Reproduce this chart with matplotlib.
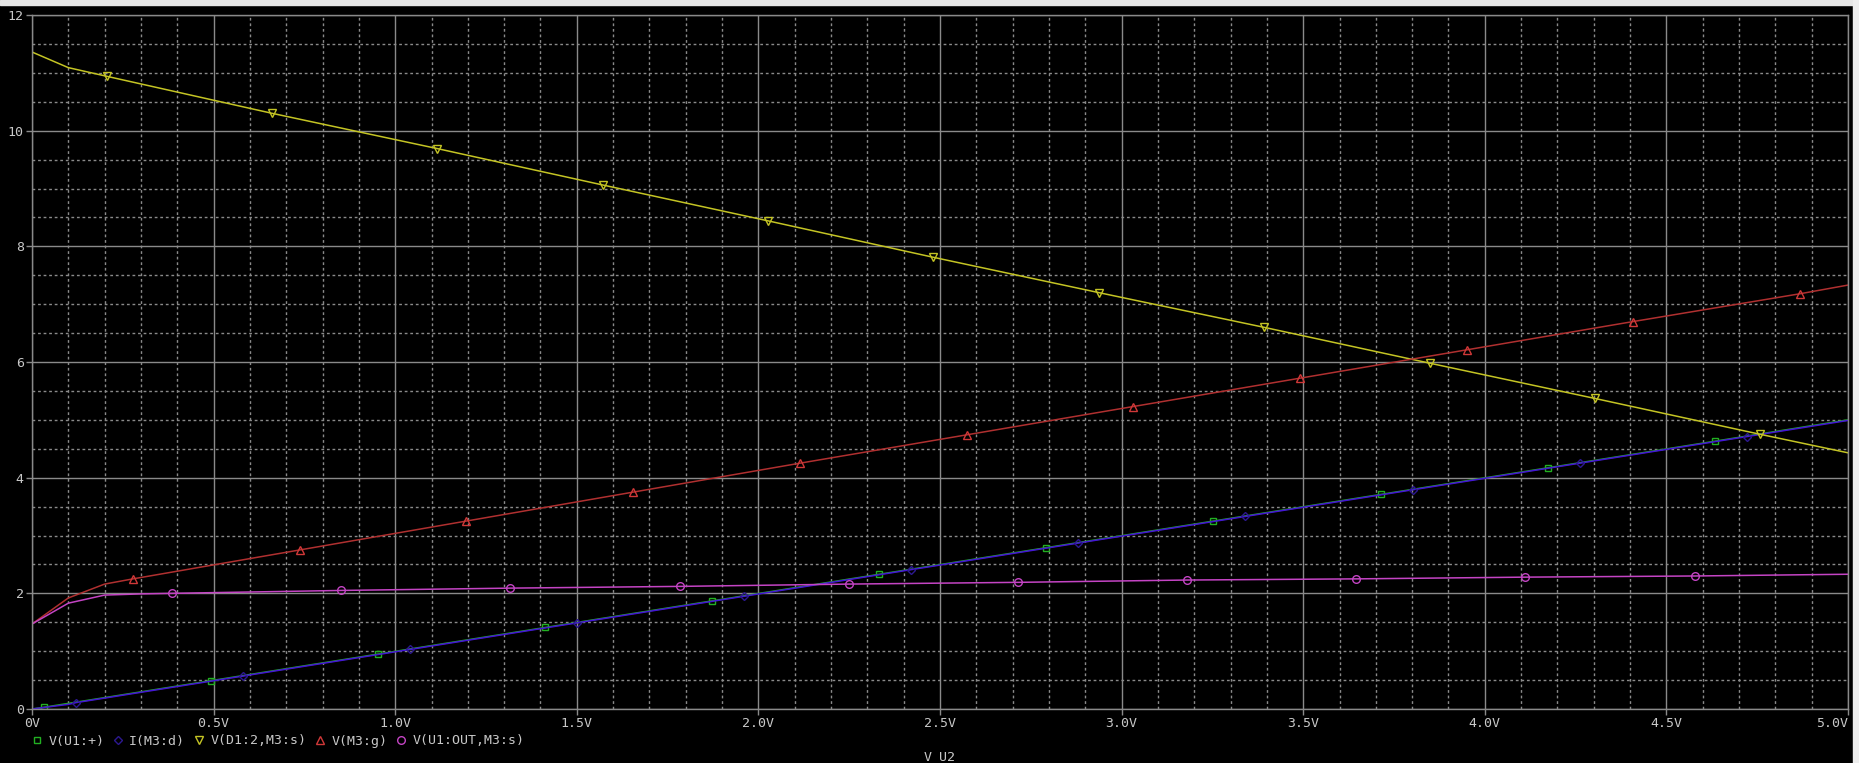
import matplotlib
matplotlib.use('Agg')
import matplotlib.pyplot as plt
import matplotlib.patches as mpatches
from matplotlib.lines import Line2D
from matplotlib.ticker import MultipleLocator
import numpy as np

# ── data (x = V_U2 in volts) ──
# V(U1:+)  green squares
g_x = [0.0, 0.033, 0.493, 0.953, 1.413, 1.873, 2.333, 2.793, 3.253, 3.713, 4.173, 4.633, 5.0]
g_y = [0.0, 0.03, 0.49, 0.95, 1.41, 1.87, 2.33, 2.79, 3.25, 3.71, 4.17, 4.63, 5.0]
g_mk = list(range(1, 12))
# I(M3:d)  blue diamonds
b_x = [0.0, 0.1, 0.121, 0.581, 1.041, 1.501, 1.961, 2.421, 2.881, 3.341, 3.801, 4.261, 4.721, 5.0]
b_y = [0.0, 0.08, 0.11, 0.57, 1.03, 1.49, 1.95, 2.41, 2.87, 3.33, 3.79, 4.25, 4.71, 4.99]
b_mk = list(range(2, 13))
# V(D1:2,M3:s)  yellow down-triangles
y_x = [0.0, 0.1, 0.206, 0.661, 1.116, 1.572, 2.027, 2.482, 2.937, 3.392, 3.848, 4.303, 4.758, 5.0]
y_y = [11.36, 11.09, 10.94, 10.30, 9.69, 9.06, 8.44, 7.81, 7.20, 6.60, 5.98, 5.37, 4.75, 4.43]
y_mk = list(range(2, 13))
# V(M3:g)  red up-triangles
r_x = [0.0, 0.1, 0.2, 0.278, 0.737, 1.196, 1.655, 2.114, 2.573, 3.032, 3.491, 3.950, 4.409, 4.868, 5.0]
r_y = [1.47, 1.92, 2.16, 2.25, 2.75, 3.25, 3.75, 4.25, 4.74, 5.23, 5.72, 6.21, 6.70, 7.18, 7.33]
r_mk = list(range(3, 14))
# V(U1:OUT,M3:s)  magenta circles
m_x = [0.0, 0.1, 0.2, 0.3, 0.386, 0.852, 1.317, 1.783, 2.249, 2.715, 3.181, 3.646, 4.112, 4.578, 5.0]
m_y = [1.47, 1.83, 1.97, 1.99, 2.00, 2.05, 2.09, 2.12, 2.16, 2.19, 2.23, 2.25, 2.28, 2.30, 2.33]
m_mk = list(range(4, 14))

labels = ['V(U1:+)', 'I(M3:d)', 'V(D1:2,M3:s)', 'V(M3:g)', 'V(U1:OUT,M3:s)']
x_ticks = np.arange(0, 5.01, 0.5)
y_ticks = np.arange(0, 12.1, 2)

plt.rcParams['font.family'] = ['DejaVu Sans Mono']
grid_c = '#8a8a8a'
text_c = '#c8c8c8'

W, H = 1859, 763
fig = plt.figure(figsize=(W / 100, H / 100), dpi=100, facecolor='black')
ax = fig.add_axes([32 / W, 1 - 709 / H, (1848 - 32) / W, (709 - 15) / H])
ax.set_facecolor('black')

styles = [
    (g_x, g_y, g_mk, 's', '#22b022', '#22b022', 4.8),
    (b_x, b_y, b_mk, 'D', '#4414d4', '#2c1890', 4.0),
    (y_x, y_y, y_mk, 'v', '#c4c424', '#c4c424', 5.5),
    (r_x, r_y, r_mk, '^', '#b03030', '#d03838', 5.5),
    (m_x, m_y, m_mk, 'o', '#c444c4', '#c444c4', 5.5),
]
handles = []
for xs, ys, mk, m, lc, mc, ms in styles:
    ax.plot(xs, ys, color=lc, lw=1.1, marker=m, markevery=mk, ms=ms,
            mfc='none', mec=mc, mew=1.0)
    handles.append(Line2D([], [], ls='None', marker=m, ms=ms, mfc='none', mec=mc, mew=1.0))

ax.set_xlim(0, 5)
ax.set_ylim(0, 12)
ax.set_xticks(x_ticks)
ax.set_xticklabels(['0V'] + [f'{v:.1f}V' for v in x_ticks[1:]])
ax.get_xticklabels()[-1].set_ha('right')
ax.set_yticks(y_ticks)
ax.set_yticklabels([f'{v:.0f}' for v in y_ticks])
ax.xaxis.set_minor_locator(MultipleLocator(0.1))
ax.yaxis.set_minor_locator(MultipleLocator(0.5))
ax.set_axisbelow(True)
ax.grid(which='major', color=grid_c, lw=1.0, ls='-')
ax.grid(which='minor', color=grid_c, lw=1.0, ls=(0, (2, 2)))
ax.tick_params(which='major', direction='out', length=4, width=1, color=grid_c,
               labelcolor=text_c, labelsize=9.5, pad=2)
ax.tick_params(which='minor', length=0)
for s in ax.spines.values():
    s.set_color(grid_c)
    s.set_linewidth(1.0)

ax.set_xlabel('V_U2', color=text_c, fontsize=9.5)
ax.xaxis.set_label_coords(0.5, -(757 - 709) / (709 - 15))
ax.xaxis.label.set_va('center')

fig.legend(handles, labels, loc='center left', bbox_to_anchor=(33 / W, 1 - 741 / H),
           ncol=5, frameon=False, fontsize=9.5, handlelength=0.6, handletextpad=0.55,
           columnspacing=0.75, borderpad=0, borderaxespad=0, labelcolor=text_c)

# window edges of the screenshot
fig.add_artist(mpatches.Rectangle((0, 1 - 5 / H), 1, 5 / H, transform=fig.transFigure,
                                  color='#e6e6e6', zorder=10))
fig.add_artist(mpatches.Rectangle((1853 / W, 0), 6 / W, 1, transform=fig.transFigure,
                                  color='#eeeeee', zorder=10))

fig.savefig('out.png', dpi=100, facecolor='black')
